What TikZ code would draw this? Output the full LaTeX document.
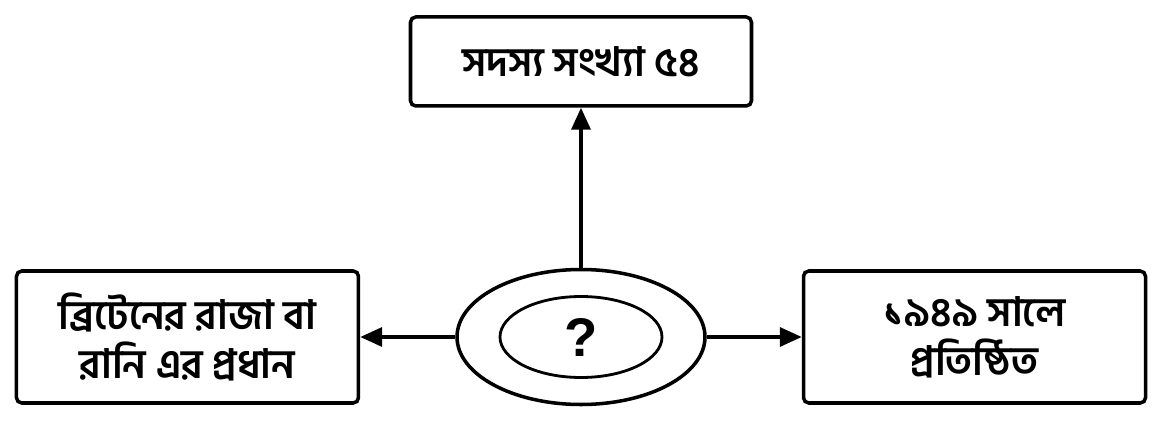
\documentclass[tikz,border=0pt]{standalone}
\usepackage{fontspec}
\newfontfamily\bnfont[Script=Bengali,BoldFont={Hind Siliguri SemiBold}]{Hind Siliguri}
\newfontfamily\qfont{Liberation Sans}
\usetikzlibrary{arrows.meta,positioning,shapes.geometric}

\begin{document}
\begin{tikzpicture}[-{Triangle[length=0.44cm,width=0.38cm]},shorten >=0pt,
	node distance=1.9cm,line width=2pt,
	info node/.style={rectangle,draw,rounded corners=3pt,align=center,
		font=\bnfont\bfseries\fontsize{23}{28}\selectfont},
	quiz node/.style={ellipse,draw,inner sep=0pt}]
	\useasboundingbox (0,0) rectangle (23.28,8.68);
	
	\node[quiz node,minimum width=4.96cm,minimum height=2.7cm] (q) at (11.62,1.94) {};
	\node[quiz node,minimum width=3.24cm,minimum height=1.62cm,line width=1.6pt,
		font=\qfont\bfseries\fontsize{31}{34}\selectfont] (qi) at (q.center) {?};
	\node[info node,minimum width=6.82cm,minimum height=1.78cm] (members) [above=3.2cm of q] {সদস্য সংখ্যা ৫৪};
	\node[info node,minimum width=6.84cm,minimum height=2.64cm] (head) [left=of q] {ব্রিটেনের রাজা বা\\রানি এর প্রধান};
	\node[info node,minimum width=6.84cm,minimum height=2.64cm] (founded) [right=of q] {১৯৪৯ সালে\\প্রতিষ্ঠিত};
	
	\path
	(q) edge (members)
	(q) edge (head)
	(q) edge (founded);
\end{tikzpicture}
\end{document}
